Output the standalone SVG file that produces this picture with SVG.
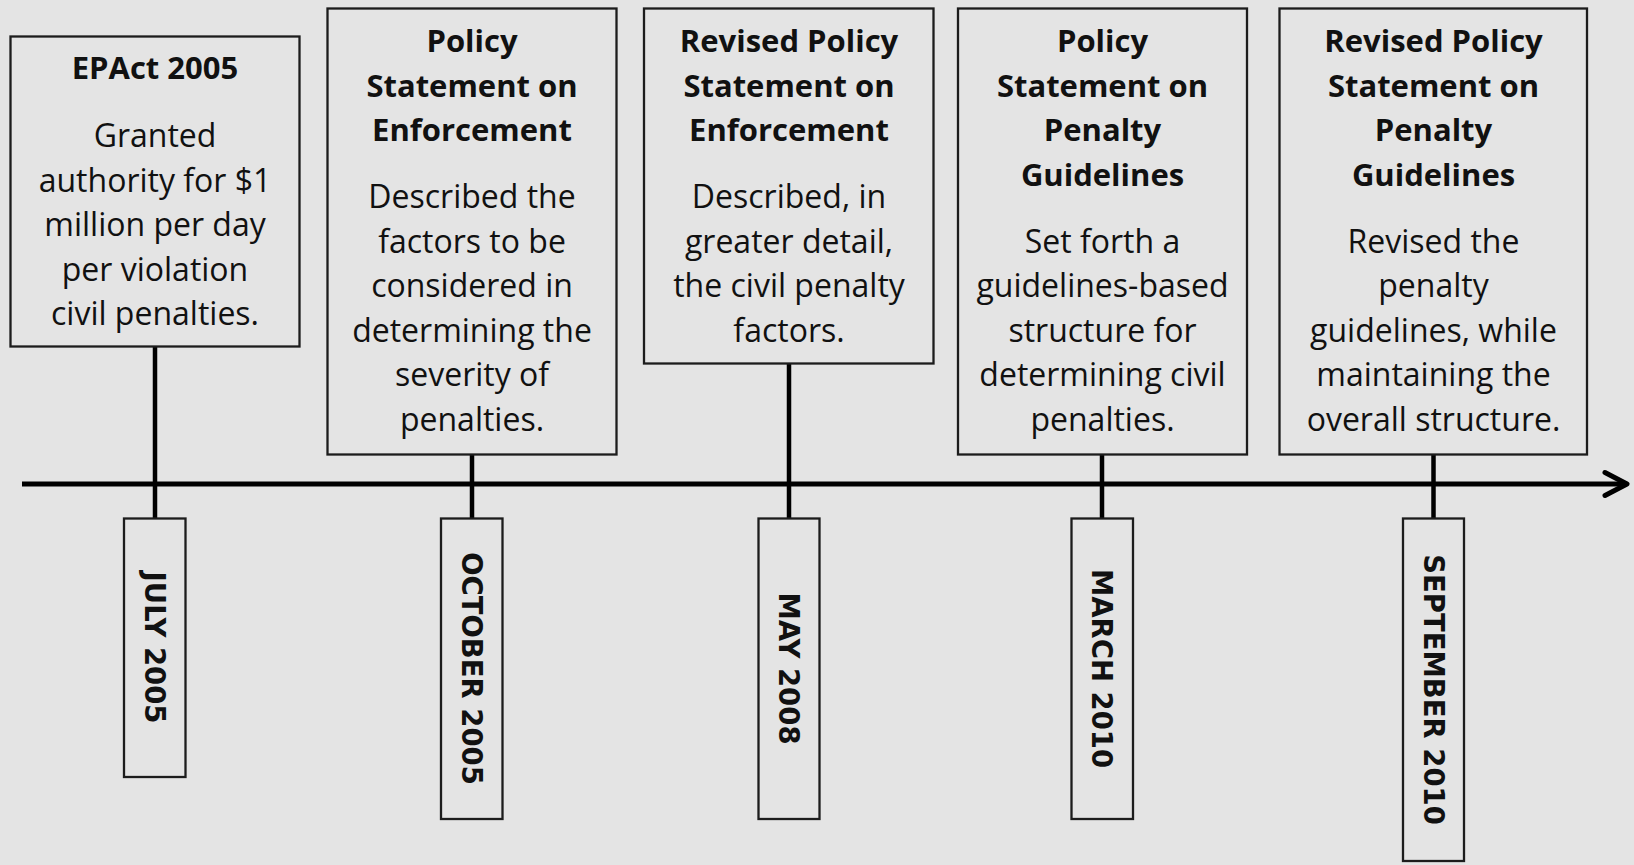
<svg xmlns="http://www.w3.org/2000/svg" width="1634" height="865" viewBox="0 0 1634 865">
  <defs>
    <style>
      .bg { fill: #e4e4e4; }
      .box { fill: none; stroke: #1c1c1c; stroke-width: 2.3; }
      .rule { stroke: #000; stroke-width: 5; fill: none; }
      .stem { stroke: #000; stroke-width: 4.5; fill: none; }
      .head { font-family: "Open Sans", Lato, sans-serif; font-weight: 700; font-size: 31px; fill: #111; text-anchor: middle; }
      .body { font-family: "Open Sans", Lato, sans-serif; font-weight: 400; font-size: 32px; fill: #111; text-anchor: middle; }
      .date { font-family: "DejaVu Sans", sans-serif; font-weight: 700; font-size: 27.5px; fill: #111; text-anchor: middle; }
    </style>
    <marker id="chev" markerUnits="userSpaceOnUse" markerWidth="32" markerHeight="32" viewBox="0 0 32 32" refX="27" refY="16" orient="auto">
      <path d="M5 4.5 L27 16 L5 27.5" fill="none" stroke="#000" stroke-width="5" stroke-linecap="round" stroke-linejoin="round"/>
    </marker>
  </defs>

  <rect class="bg" x="0" y="0" width="1634" height="865"/>

  <!-- timeline axis and stems -->
  <g id="connectors">
    <line class="rule" x1="22" y1="484" x2="1627" y2="484" marker-end="url(#chev)"/>
    <line class="stem" x1="155" y1="347" x2="155" y2="518"/>
    <line class="stem" x1="472" y1="455" x2="472" y2="518"/>
    <line class="stem" x1="789" y1="363" x2="789" y2="518"/>
    <line class="stem" x1="1102" y1="455" x2="1102" y2="518"/>
    <line class="stem" x1="1433.5" y1="455" x2="1433.5" y2="518"/>
  </g>

  <!-- event boxes -->
  <g id="event-epact">
    <rect class="box" x="10.5" y="36.5" width="289" height="310"/>
    <text class="head" x="155" y="79">EPAct 2005</text>
    <text class="body" x="155" y="147">Granted</text>
    <text class="body" x="155" y="191.5">authority for $1</text>
    <text class="body" x="155" y="236">million per day</text>
    <text class="body" x="155" y="280.5">per violation</text>
    <text class="body" x="155" y="325">civil penalties.</text>
  </g>

  <g id="event-enforcement">
    <rect class="box" x="327.5" y="8.5" width="289" height="446"/>
    <text class="head" x="472" y="52">Policy</text>
    <text class="head" x="472" y="96.5">Statement on</text>
    <text class="head" x="472" y="141">Enforcement</text>
    <text class="body" x="472" y="208">Described the</text>
    <text class="body" x="472" y="252.5">factors to be</text>
    <text class="body" x="472" y="297">considered in</text>
    <text class="body" x="472" y="341.5">determining the</text>
    <text class="body" x="472" y="386">severity of</text>
    <text class="body" x="472" y="430.5">penalties.</text>
  </g>

  <g id="event-revised-enforcement">
    <rect class="box" x="644" y="8.5" width="289.5" height="355"/>
    <text class="head" x="789" y="52">Revised Policy</text>
    <text class="head" x="789" y="96.5">Statement on</text>
    <text class="head" x="789" y="141">Enforcement</text>
    <text class="body" x="789" y="208">Described, in</text>
    <text class="body" x="789" y="252.5">greater detail,</text>
    <text class="body" x="789" y="297">the civil penalty</text>
    <text class="body" x="789" y="341.5">factors.</text>
  </g>

  <g id="event-penalty-guidelines">
    <rect class="box" x="958" y="8.5" width="289" height="446"/>
    <text class="head" x="1102.5" y="52">Policy</text>
    <text class="head" x="1102.5" y="96.5">Statement on</text>
    <text class="head" x="1102.5" y="141">Penalty</text>
    <text class="head" x="1102.5" y="185.5">Guidelines</text>
    <text class="body" x="1102.5" y="252.5">Set forth a</text>
    <text class="body" x="1102.5" y="297">guidelines-based</text>
    <text class="body" x="1102.5" y="341.5">structure for</text>
    <text class="body" x="1102.5" y="386">determining civil</text>
    <text class="body" x="1102.5" y="430.5">penalties.</text>
  </g>

  <g id="event-revised-guidelines">
    <rect class="box" x="1279.5" y="8.5" width="307.5" height="446"/>
    <text class="head" x="1433.5" y="52">Revised Policy</text>
    <text class="head" x="1433.5" y="96.5">Statement on</text>
    <text class="head" x="1433.5" y="141">Penalty</text>
    <text class="head" x="1433.5" y="185.5">Guidelines</text>
    <text class="body" x="1433.5" y="252.5">Revised the</text>
    <text class="body" x="1433.5" y="297">penalty</text>
    <text class="body" x="1433.5" y="341.5">guidelines, while</text>
    <text class="body" x="1433.5" y="386">maintaining the</text>
    <text class="body" x="1433.5" y="430.5">overall structure.</text>
  </g>

  <!-- date tags -->
  <g id="date-july-2005">
    <rect class="box" x="124" y="518.5" width="61.5" height="258.5"/>
    <text class="date" transform="translate(154.5 647.5) rotate(90)" x="0" y="10">JULY 2005</text>
  </g>
  <g id="date-october-2005">
    <rect class="box" x="441" y="518.5" width="61.5" height="300.5"/>
    <text class="date" transform="translate(471.5 668.5) rotate(90)" x="0" y="10">OCTOBER 2005</text>
  </g>
  <g id="date-may-2008">
    <rect class="box" x="758.5" y="518.5" width="61" height="300.5"/>
    <text class="date" transform="translate(789 668.5) rotate(90)" x="0" y="10">MAY 2008</text>
  </g>
  <g id="date-march-2010">
    <rect class="box" x="1071.5" y="518.5" width="61.5" height="300.5"/>
    <text class="date" transform="translate(1102 668.5) rotate(90)" x="0" y="10">MARCH 2010</text>
  </g>
  <g id="date-september-2010">
    <rect class="box" x="1403" y="518.5" width="61" height="342.5"/>
    <text class="date" transform="translate(1433.5 689.5) rotate(90)" x="0" y="10">SEPTEMBER 2010</text>
  </g>
</svg>
